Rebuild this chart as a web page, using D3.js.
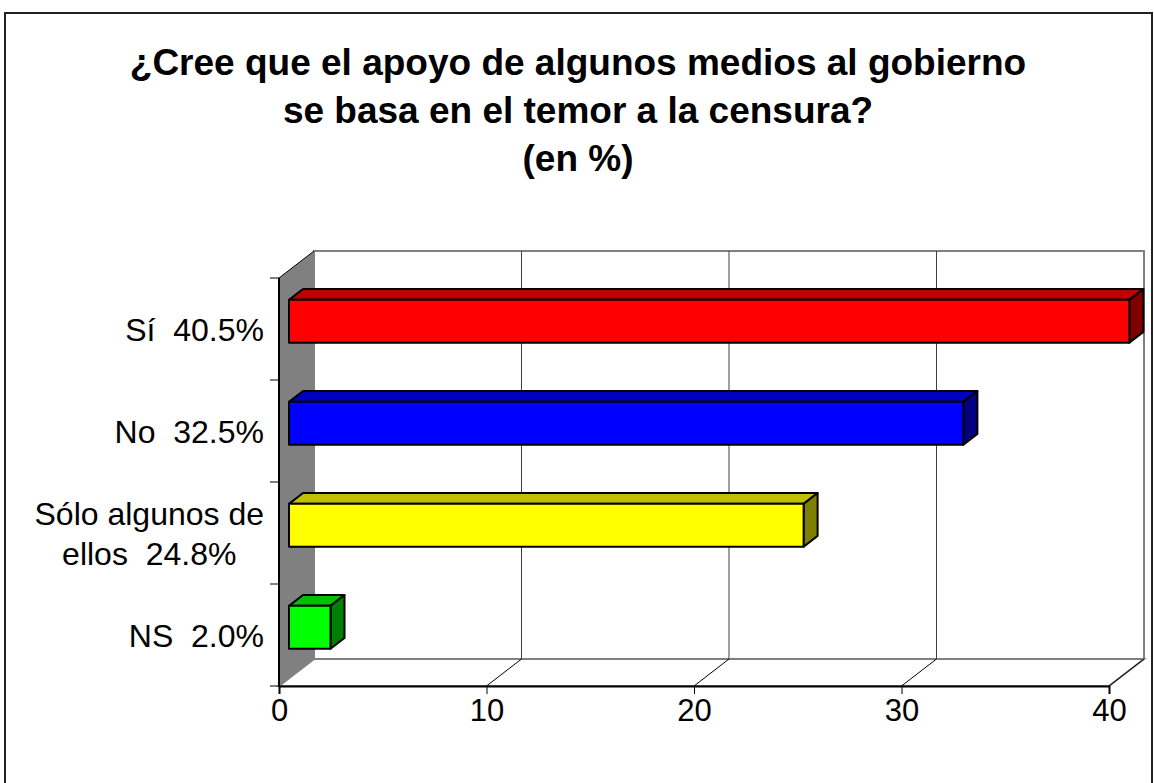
<!DOCTYPE html>
<html>
<head>
<meta charset="utf-8">
<script src="https://cdn.jsdelivr.net/npm/d3@7"></script>
<style>
  html, body { margin: 0; padding: 0; background: #fff; }
  svg { display: block; font-family: Arial, "Liberation Sans", sans-serif; }
</style>
</head>
<body>
<svg id="chart" width="1154" height="783"></svg>
<script>
// Survey answers (percent)
const categories = ["Sí", "No", "Sólo algunos de ellos", "NS"];
const labelLines = [["Sí  40.5%"], ["No  32.5%"], ["Sólo algunos de", "ellos  24.8%"], ["NS  2.0%"]];
const values = [40.5, 32.5, 24.8, 2.0];
const xTicks = [0, 10, 20, 30, 40];
const titleLines = ["¿Cree que el apoyo de algunos medios al gobierno", "se basa en el temor a la censura?", "(en %)"];

// Face colours: front, top, side
const fronts = ["#ff0000", "#0000ff", "#ffff00", "#00ff00"];
const tops   = ["#c00000", "#0000c0", "#c0c000", "#00c000"];
const sides  = ["#800000", "#000080", "#808000", "#008000"];

const svg = d3.select("#chart");

// Outer frame
svg.append("rect").attr("x", 5).attr("y", 13).attr("width", 1147).attr("height", 790)
  .attr("fill", "#fff").attr("stroke", "#222").attr("stroke-width", 2);

// Title
svg.append("g").selectAll("text").data(titleLines).join("text")
  .attr("x", 578).attr("y", (d, i) => 75 + i * 48)
  .attr("text-anchor", "middle").attr("font-weight", "bold").attr("font-size", 37)
  .text(d => d);

// Front-plane scales
const x = d3.scaleLinear().domain([0, 40]).range([279, 1109]);
const y = d3.scaleBand().domain(categories).range([278, 686]).paddingInner(0.58).paddingOuter(0.29);
const band = d3.scaleBand().domain(categories).range([278, 686]);

// Oblique depth vector of the full chart depth
const DX = 35, DY = -27;
const off = t => [DX * t, DY * t];
const yTop = 278, yBot = 686;
const pts = a => a.map(p => p.join(",")).join(" ");

// Back wall
svg.append("polygon")
  .attr("points", pts([[x(0) + DX, yTop + DY], [x(40) + DX, yTop + DY], [x(40) + DX, yBot + DY], [x(0) + DX, yBot + DY]]))
  .attr("fill", "#fff").attr("stroke", "#808080").attr("stroke-width", 2);

// Side wall
svg.append("polygon")
  .attr("points", pts([[x(0), yTop], [x(0) + DX, yTop + DY], [x(0) + DX, yBot + DY], [x(0), yBot]]))
  .attr("fill", "#808080");
svg.append("line").attr("x1", x(0)).attr("y1", yTop).attr("x2", x(0) + DX).attr("y2", yTop + DY)
  .attr("stroke", "#000").attr("stroke-width", 1);

// Floor
svg.append("polygon")
  .attr("points", pts([[x(0), yBot], [x(40), yBot], [x(40) + DX, yBot + DY], [x(0) + DX, yBot + DY]]))
  .attr("fill", "#fff").attr("stroke", "#808080").attr("stroke-width", 2);

// Gridlines: back wall verticals and floor diagonals
const grid = svg.append("g");
xTicks.filter(t => t > 0 && t < 40).forEach(t => {
  grid.append("line").attr("x1", x(t) + DX).attr("x2", x(t) + DX)
    .attr("y1", yTop + DY).attr("y2", yBot + DY).attr("stroke", "#404040").attr("stroke-width", 1);
});
xTicks.filter(t => t > 0).forEach(t => {
  grid.append("line").attr("x1", x(t)).attr("y1", yBot).attr("x2", x(t) + DX).attr("y2", yBot + DY)
    .attr("stroke", "#000").attr("stroke-width", 1);
});

// Bars as boxes between depth t0 and t1
const t0 = 0.286, t1 = 0.686;
const bars = svg.append("g");
categories.forEach((c, i) => {
  const [fx, fy] = off(t0), [bx, by] = off(t1);
  const xl = x(0), xr = x(values[i]);
  const yt = y(c), yb = y(c) + y.bandwidth();
  const g = bars.append("g").attr("stroke", "#000").attr("stroke-width", 2).attr("stroke-linejoin", "round");
  g.append("polygon").attr("fill", tops[i])
    .attr("points", pts([[xl + fx, yt + fy], [xr + fx, yt + fy], [xr + bx, yt + by], [xl + bx, yt + by]]));
  g.append("polygon").attr("fill", sides[i])
    .attr("points", pts([[xr + fx, yt + fy], [xr + bx, yt + by], [xr + bx, yb + by], [xr + fx, yb + fy]]));
  g.append("polygon").attr("fill", fronts[i])
    .attr("points", pts([[xl + fx, yt + fy], [xr + fx, yt + fy], [xr + fx, yb + fy], [xl + fx, yb + fy]]));
});

// X axis on the front edge of the floor
const xAxis = svg.append("g").attr("transform", `translate(0,${yBot})`)
  .call(d3.axisBottom(x).tickValues(xTicks).tickSize(8).tickPadding(5).tickFormat(d3.format("d")));
xAxis.select(".domain").attr("stroke", "#000").attr("stroke-width", 2);
xAxis.selectAll(".tick line").attr("stroke", "#000").attr("stroke-width", 1);
xAxis.selectAll(".tick text").attr("font-size", 31).attr("font-family", "Arial, 'Liberation Sans', sans-serif").attr("fill", "#000");

// Y axis line and tick marks at category boundaries
const yAx = svg.append("g");
yAx.append("line").attr("x1", x(0)).attr("x2", x(0)).attr("y1", yTop).attr("y2", yBot)
  .attr("stroke", "#000").attr("stroke-width", 2);
const bounds = categories.map(c => band(c)).concat([yBot]);
yAx.selectAll("line.tk").data(bounds).join("line").attr("class", "tk")
  .attr("x1", x(0) - 9).attr("x2", x(0)).attr("y1", d => d).attr("y2", d => d)
  .attr("stroke", "#000").attr("stroke-width", 1);

// Category labels, multi-line labels centred on each other and right-aligned as a block
const labelRight = 264, fs = 32, lh = 40;
categories.forEach((c, i) => {
  const lines = labelLines[i];
  const cy = band(c) + band.bandwidth() / 2;
  const g = svg.append("g");
  const texts = lines.map((ln, j) => g.append("text")
    .attr("font-size", fs).attr("style", "white-space:pre").attr("text-anchor", "middle")
    .attr("y", cy + (j - (lines.length - 1) / 2) * lh + fs * 0.36).text(ln));
  const w = d3.max(texts, t => t.node().getComputedTextLength());
  texts.forEach(t => t.attr("x", labelRight - w / 2));
});
</script>
</body>
</html>
